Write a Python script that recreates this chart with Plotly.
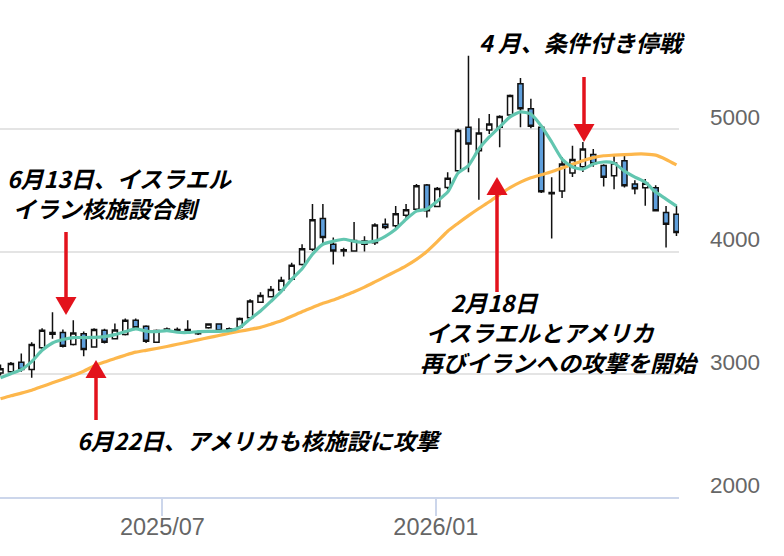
import pandas as pd
import plotly.graph_objects as go

# ---------------- data (weekly candles) ----------------
dates = pd.date_range("2025-03-14", periods=66, freq="7D")

open_ = [3010, 3021, 3097, 3038, 3215, 3325, 3340, 3242, 3329, 3223,
         3359, 3290, 3323, 3440, 3392, 3261, 3360, 3365, 3355, 3345,
         3378, 3410, 3350, 3385, 3460, 3587, 3632, 3686, 3773, 3895,
         4018, 4269, 4059, 4005, 4004, 4060, 4072, 4222, 4210, 4295,
         4345, 4541, 4367, 4522, 4658, 5012, 4821, 4990, 5012, 5113,
         5366, 5162, 5012, 4470, 4492, 4640, 4690, 4790, 4700, 4617,
         4740, 4550, 4520, 4520, 4318, 4304]
high = [3080, 3100, 3170, 3260, 3375, 3505, 3364, 3440, 3348, 3375,
        3370, 3413, 3455, 3455, 3400, 3365, 3380, 3380, 3440, 3355,
        3415, 3415, 3380, 3462, 3610, 3669, 3718, 3795, 3909, 4059,
        4386, 4386, 4114, 4030, 4241, 4125, 4230, 4269, 4370, 4386,
        4549, 4550, 4525, 4645, 5000, 5595, 5086, 5121, 5110, 5280,
        5413, 5244, 5031, 4604, 4770, 4862, 4892, 4835, 4710, 4780,
        4790, 4580, 4590, 4540, 4370, 4372]
low = [2990, 3010, 3020, 2972, 3205, 3290, 3217, 3234, 3146, 3215,
       3250, 3285, 3315, 3370, 3255, 3255, 3350, 3345, 3350, 3320,
       3370, 3345, 3345, 3378, 3450, 3580, 3625, 3680, 3765, 3885,
       4004, 4059, 3895, 3960, 4000, 4000, 4053, 4181, 4190, 4265,
       4331, 4277, 4360, 4508, 4645, 4645, 4421, 4958, 4849, 5100,
       5012, 5004, 4476, 4105, 4435, 4606, 4647, 4690, 4530, 4508,
       4522, 4467, 4372, 4325, 4032, 4127]
close = [3045, 3087, 3038, 3242, 3359, 3340, 3228, 3336, 3201, 3364,
         3261, 3360, 3440, 3378, 3269, 3356, 3368, 3355, 3365, 3330,
         3410, 3352, 3370, 3455, 3596, 3642, 3691, 3765, 3887, 4023,
         4258, 4114, 4004, 4015, 4090, 4085, 4215, 4195, 4308, 4340,
         4535, 4331, 4514, 4596, 4985, 4876, 4966, 5039, 5099, 5270,
         5162, 5021, 4486, 4480, 4712, 4750, 4835, 4715, 4604, 4720,
         4535, 4512, 4555, 4331, 4222, 4154]

ma_short = [2972, 3005, 3038, 3103, 3195, 3255, 3283, 3299, 3299, 3300,
            3307, 3323, 3348, 3370, 3352, 3348, 3356, 3342, 3340, 3348,
            3350, 3350, 3355, 3381, 3450, 3515, 3593, 3675, 3773, 3860,
            3977, 4059, 4083, 4100, 4083, 4075, 4085, 4124, 4181, 4263,
            4329, 4345, 4410, 4484, 4640, 4700, 4835, 4933, 5015, 5097,
            5137, 5120, 5023, 4892, 4753, 4688, 4671, 4712, 4729, 4720,
            4655, 4606, 4565, 4484, 4427, 4370]
ma_long = [2800, 2825, 2846, 2870, 2900, 2930, 2960, 2990, 3025, 3068,
           3100, 3128, 3155, 3180, 3195, 3210, 3226, 3244, 3262, 3280,
           3298, 3316, 3334, 3350, 3366, 3382, 3408, 3435, 3473, 3510,
           3544, 3578, 3604, 3638, 3672, 3710, 3752, 3795, 3838, 3883,
           3936, 4000, 4080, 4165, 4230, 4292, 4350, 4405, 4465, 4520,
           4565, 4600, 4625, 4650, 4680, 4710, 4740, 4765, 4780, 4785,
           4790, 4794, 4794, 4785, 4750, 4705]

x_tick_vals = ["2025-07-01", "2026-01-01"]
x_tick_text = ["2025/07", "2026/01"]
y_tick_vals = [2000, 3000, 4000, 5000, 6000]
y_tick_text = ["2000", "3000", "4000", "5000", ""]

# ---------------- figure ----------------
W, H = 784, 556
ML, MR, MT, MB = 0, 105, 6, 59
PW, PH = W - ML - MR, H - MT - MB

def px(x):
    return (x - ML) / PW

def py(y):
    return (H - MB - y) / PH

fig = go.Figure()
fig.add_trace(go.Candlestick(
    x=dates, open=open_, high=high, low=low, close=close,
    increasing=dict(line=dict(color="#111111", width=1.5), fillcolor="#ffffff"),
    decreasing=dict(line=dict(color="#111111", width=1.5), fillcolor="#5f9fdc"),
    whiskerwidth=0, showlegend=False, hoverinfo="skip",
))
fig.add_trace(go.Scatter(x=dates, y=ma_long, mode="lines",
                         line=dict(color="#fdb74c", width=3.2, shape="spline", smoothing=0.6),
                         showlegend=False, hoverinfo="skip"))
fig.add_trace(go.Scatter(x=dates, y=ma_short, mode="lines",
                         line=dict(color="#62c6b0", width=3.2, shape="spline", smoothing=0.6),
                         showlegend=False, hoverinfo="skip"))

RED = "#e3121c"
shapes = []

def arrow(x, y_tail, y_tip, head_len=18, head_w=21):
    base = y_tip - head_len if y_tip > y_tail else y_tip + head_len
    shapes.append(dict(type="line", xref="paper", yref="paper",
                       x0=px(x), x1=px(x), y0=py(y_tail), y1=py(base),
                       line=dict(color=RED, width=3.5), layer="above"))
    path = "M {a},{b} L {c},{b} L {d},{e} Z".format(
        a=px(x - head_w / 2), c=px(x + head_w / 2), b=py(base), d=px(x), e=py(y_tip))
    shapes.append(dict(type="path", xref="paper", yref="paper", path=path,
                       fillcolor=RED, line=dict(color=RED, width=0), layer="above"))

arrow(66, 232, 315)
arrow(96, 420, 360)
arrow(497, 292, 177)
arrow(584, 77, 142)

TF = dict(family="Noto Sans CJK JP", size=23, color="#000000", weight="bold", style="italic")
# (text, left x px, centre y px of the whole block)
texts = [
    ("6月13日、イスラエル<br>\u2005イラン核施設合劇", 5, 193),
    ("4 月、条件付き停戦", 477, 42),
    ("\u3000\u20042月18日<br>\u2005イスラエルとアメリカ<br>再びイランへの攻撃を開始", 418, 332),
    ("6月22日、アメリカも核施設に攻撃", 75, 440),
]
annotations = [dict(text=t, xref="paper", yref="paper", x=px(x), y=py(y),
                    xanchor="left", yanchor="middle", align="left",
                    showarrow=False, font=TF)
               for t, x, y in texts]

fig.update_layout(
    width=W, height=H, autosize=False,
    margin=dict(l=ML, r=MR, t=MT, b=MB),
    paper_bgcolor="#ffffff", plot_bgcolor="#ffffff",
    shapes=shapes, annotations=annotations,
    xaxis=dict(type="date", range=["2025-03-13 16:00", "2026-06-13 17:00"],
               rangeslider=dict(visible=False),
               tickvals=x_tick_vals, ticktext=x_tick_text,
               ticks="outside", ticklen=17, tickwidth=1.5, tickcolor="#ccd6eb",
               showline=True, linecolor="#ccd6eb", linewidth=2,
               showgrid=False, zeroline=False, ticklabelstandoff=-9,
               tickfont=dict(family="Liberation Sans", size=23.5, color="#666666")),
    yaxis=dict(range=[2000, 6000], side="right",
               tickvals=y_tick_vals, ticktext=y_tick_text,
               showgrid=True, gridcolor="#e4e4e4", gridwidth=1.5,
               zeroline=False, showline=False, ticks="",
               ticklabelstandoff=30, ticklabelshift=-12,
               tickfont=dict(family="Liberation Sans", size=22.5, color="#666666")),
)

fig.write_html("out.html")
